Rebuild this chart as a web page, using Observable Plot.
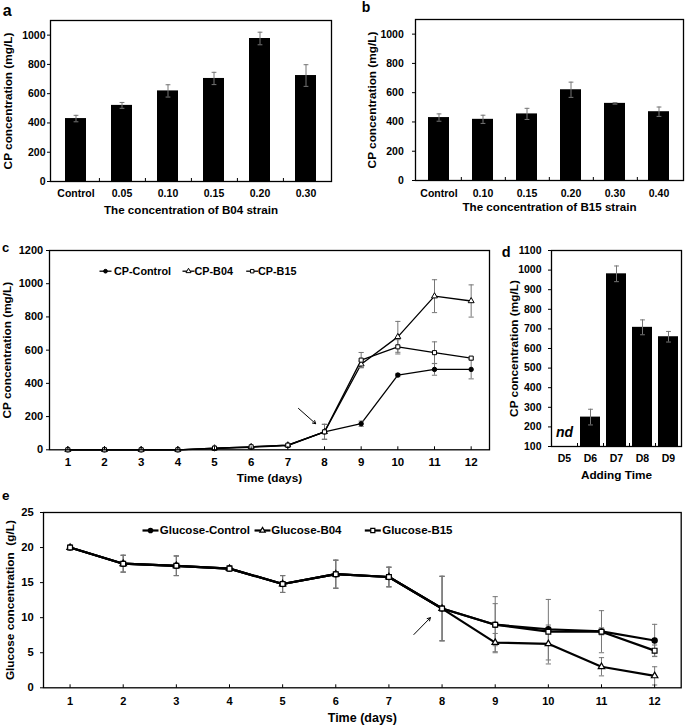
<!DOCTYPE html>
<html>
<head>
<meta charset="utf-8">
<script src="https://cdn.jsdelivr.net/npm/d3@7"></script>
<script src="https://cdn.jsdelivr.net/npm/@observablehq/plot@0.6"></script>
<style>
  html, body { margin: 0; padding: 0; background: #fff; }
  #fig { position: relative; width: 685px; height: 726px; overflow: hidden; background: #fff;
         font-family: "Liberation Sans", Arial, Helvetica, sans-serif; }
  .tag { position: absolute; font-weight: bold; color: #000; white-space: nowrap; }
</style>
</head>
<body>
<div id="fig"></div>
<script>
// ---------------- DATA ----------------
// Panel a
const aCategories = ["Control", "0.05", "0.10", "0.15", "0.20", "0.30"];
const aValues = [430, 520, 619, 704, 977, 724];
const aErrors = [22, 20, 42, 42, 43, 74];
const aXLabel = "The concentration of B04 strain";
// Panel b
const bCategories = ["Control", "0.10", "0.15", "0.20", "0.30", "0.40"];
const bValues = [430, 418, 455, 620, 527, 470];
const bErrors = [25, 28, 38, 52, 5, 32];
const bXLabel = "The concentration of B15 strain";
const abTicks = [0, 200, 400, 600, 800, 1000];
const cpLabel = "CP concentration (mg/L)";
// Panel c
const days = [1, 2, 3, 4, 5, 6, 7, 8, 9, 10, 11, 12];
const cpControl = [0, 0, 0, 0, 7, 15, 25, 108, 157, 450, 484, 484];
const cpControlErr = [0, 0, 0, 0, 2, 3, 4, 45, 16, 10, 35, 57];
const cpB04 = [0, 0, 0, 0, 10, 18, 28, 108, 515, 680, 925, 896];
const cpB04Err = [0, 0, 0, 0, 0, 0, 0, 45, 20, 93, 99, 97];
const cpB15 = [0, 0, 0, 0, 10, 18, 28, 108, 540, 620, 585, 552];
const cpB15Err = [0, 0, 0, 0, 0, 0, 0, 45, 46, 43, 65, 5];
const cTicks = [0, 200, 400, 600, 800, 1000, 1200];
const cSeriesNames = ["CP-Control", "CP-B04", "CP-B15"];
const cArrow = [{x1: 7.29, y1: 249, x2: 7.76, y2: 157}];
const timeLabel = "Time (days)";
// Panel d
const dCategories = ["D5", "D6", "D7", "D8", "D9"];
const dValues = [null, 250, 981, 708, 660];
const dErrors = [null, 40, 40, 38, 27];
const dTicks = [100, 200, 300, 400, 500, 600, 700, 800, 900, 1000, 1100];
const dNotDetected = "nd";
const dXLabel = "Adding Time";
// Panel e
const gluControl = [20, 17.7, 17.4, 17.0, 14.8, 16.2, 15.8, 11.3, 9.0, 8.35, 8.05, 6.75];
const gluControlErr = [0, 1.2, 1.4, 0.4, 1.2, 2.0, 1.4, 4.6, 3.0, 0.6, 0.5, 2.3];
const gluB04 = [20, 17.7, 17.4, 17.0, 14.8, 16.2, 15.8, 11.3, 6.45, 6.27, 3.0, 1.7];
const gluB04Err = [0, 1.2, 1.4, 0.4, 1.2, 2.0, 1.4, 4.6, 1.3, 2.3, 1.3, 1.3];
const gluB15 = [20, 17.7, 17.4, 17.0, 14.8, 16.2, 15.8, 11.3, 9.0, 8.0, 8.0, 5.3];
const gluB15Err = [0, 1.2, 1.4, 0.4, 1.2, 2.0, 1.4, 4.6, 4.0, 4.6, 3.0, 0.8];
const eTicks = [0, 5, 10, 15, 20, 25];
const eSeriesNames = ["Glucose-Control", "Glucose-B04", "Glucose-B15"];
const eArrow = [{x1: 7.47, y1: 7.6, x2: 7.78, y2: 10.0}];
const eYLabel = "Glucose concentration  (g/L)";

// ---------------- HELPERS ----------------
const FONT = '"Liberation Sans", Arial, Helvetica, sans-serif';
const NARROW = '"Liberation Sans Narrow", "Arial Narrow", "Liberation Sans", Arial, sans-serif';
const ERR = "#777";
const plain = d => String(d);
const fig = document.getElementById("fig");

function place(node, left, top) {
  node.style.position = "absolute";
  node.style.left = left + "px";
  node.style.top = top + "px";
  fig.appendChild(node);
}
function tag(t, x, baseline, size) {
  const s = document.createElement("div");
  s.className = "tag";
  s.textContent = t;
  s.style.fontSize = size + "px";
  s.style.lineHeight = size + "px";
  place(s, x, baseline - 0.8465 * size);
}
const hLine = (half) => ({draw(c) { c.moveTo(-half, 0); c.lineTo(half, 0); }});
const vTick = {draw(c) { c.moveTo(0, 0); c.lineTo(0, -3.5); }};

function style(fs) {
  return {fontFamily: FONT, fontWeight: "bold", fontSize: fs + "px", color: "#000",
          background: "transparent", overflow: "visible", maxWidth: "none"};
}

function barPanel(o) {
  const rows = o.cats.map((c, i) => ({cat: c, v: o.values[i], e: o.errors[i]}));
  const shown = rows.filter(r => r.v != null);
  const missing = rows.filter(r => r.v == null);
  const step = (o.width - o.ml - o.mr) / o.cats.length;
  const caps = shown.flatMap(r => [{cat: r.cat, y: r.v - r.e}, {cat: r.cat, y: r.v + r.e}]);
  const marks = [
    Plot.barY(shown, {x: "cat", y: "v", fill: "#000", clip: true}),
    Plot.ruleX(shown, {x: "cat", y1: r => r.v - r.e, y2: r => r.v + r.e, stroke: ERR, strokeWidth: 1}),
    Plot.dot(caps, {x: "cat", y: "y", symbol: hLine(2.4), stroke: ERR, fill: "none", strokeWidth: 1}),
    Plot.dot(o.cats.slice(0, -1), {x: d => d, frameAnchor: "bottom", dx: step / 2, symbol: vTick, stroke: "#000", strokeWidth: 1}),
    Plot.axisY({ticks: o.ticks, tickFormat: plain, tickSize: 3, tickPadding: o.ytp, label: null}),
    Plot.axisX({tickSize: 0, tickPadding: o.xtp, label: null}),
    Plot.text([o.yLabel], {text: d => d, frameAnchor: "left", textAnchor: "middle", rotate: -90, dx: o.ylx, lineAnchor: "middle", fontSize: 11.8}),
    Plot.text([o.xLabel], {text: d => d, frameAnchor: "bottom", textAnchor: "middle", dy: o.xly, lineAnchor: "bottom", fontSize: o.xlfs || 11.6}),
    Plot.frame({stroke: "#000", strokeWidth: 1.3})
  ];
  if (missing.length && o.note) {
    marks.push(Plot.text(missing, {x: "cat", text: () => o.note, frameAnchor: "bottom", dy: -10,
      fontStyle: "italic", fontSize: 14}));
  }
  return Plot.plot({
    width: o.width, height: o.height,
    marginTop: o.mt, marginRight: o.mr, marginBottom: o.mb, marginLeft: o.ml,
    style: style(o.tickFont),
    x: {type: "band", domain: o.cats, paddingInner: o.pad, paddingOuter: o.pad / 2, align: 0.5},
    y: {domain: o.yDomain},
    marks
  });
}

function linePanel(o) {
  const rows = o.series.flatMap(s => days.map((d, i) => ({series: s.name, day: d, v: s.values[i], e: s.errors[i]})));
  const errs = rows.filter(r => r.e > 0);
  const caps = errs.flatMap(r => [{day: r.day, y: r.v - r.e}, {day: r.day, y: r.v + r.e}]);
  const marks = [
    Plot.line(rows, {x: "day", y: "v", z: "series", stroke: "#000", strokeWidth: o.lw}),
    Plot.ruleX(errs, {x: "day", y1: r => r.v - r.e, y2: r => r.v + r.e, stroke: ERR, strokeWidth: 1}),
    Plot.dot(caps, {x: "day", y: "y", symbol: hLine(2.6), stroke: ERR, fill: "none", strokeWidth: 1}),
    ...o.series.map(s => Plot.dot(rows.filter(r => r.series === s.name),
      {x: "day", y: "v", symbol: s.symbol, r: s.r, fill: s.fill, stroke: "#000", strokeWidth: o.mw})),
    Plot.dot(days, {x: d => d, frameAnchor: "bottom", symbol: vTick, stroke: "#000", strokeWidth: 1}),
    Plot.axisY({ticks: o.ticks, tickFormat: plain, tickSize: 3, tickPadding: o.ytp, label: null, fontSize: o.yTickFont}),
    Plot.axisX({ticks: days, tickFormat: plain, tickSize: 0, tickPadding: o.xtp, label: null, fontSize: o.xTickFont, fontFamily: o.xFont}),
    Plot.text([o.yLabel], {text: d => d, frameAnchor: "left", textAnchor: "middle", rotate: -90, dx: o.ylx, lineAnchor: "middle", fontSize: 11.8}),
    Plot.text([o.xLabel], {text: d => d, frameAnchor: "bottom", textAnchor: "middle", dy: o.xly, lineAnchor: "bottom", fontSize: o.xlfs, fontFamily: o.xFont}),
    Plot.arrow(o.arrow, {x1: "x1", y1: "y1", x2: "x2", y2: "y2", stroke: "#000", strokeWidth: 1, headLength: 5}),
    Plot.frame({stroke: "#000", strokeWidth: 1.3})
  ];
  // legend
  o.series.forEach((s, i) => {
    const lx = o.legend.lineX[i], tx = o.legend.textX[i], ly = o.legend.y;
    marks.push(
      Plot.dot([s.name], {frameAnchor: "top-left", dx: lx, dy: ly, symbol: hLine(o.legend.half), stroke: "#000", strokeWidth: o.lw}),
      Plot.dot([s.name], {frameAnchor: "top-left", dx: lx, dy: ly, symbol: s.symbol, r: s.r * 0.85, fill: s.fill, stroke: "#000", strokeWidth: o.mw}),
      Plot.text([s.name], {text: d => d, frameAnchor: "top-left", dx: tx, dy: ly, textAnchor: "start", lineAnchor: "middle", fontSize: o.legend.fs})
    );
  });
  return Plot.plot({
    width: o.width, height: o.height,
    marginTop: o.mt, marginRight: o.mr, marginBottom: o.mb, marginLeft: o.ml,
    style: style(o.yTickFont),
    x: {type: "linear", domain: [0.5, 12.5]},
    y: {domain: o.yDomain},
    marks
  });
}

// ---------------- PANELS ----------------
place(barPanel({
  cats: aCategories, values: aValues, errors: aErrors, ticks: abTicks, yDomain: [0, 1100],
  xLabel: aXLabel, yLabel: cpLabel,
  width: 340, height: 215, mt: 20, mr: 9, mb: 34, ml: 50,
  pad: 0.55, ytp: 2, xtp: 8, ylx: -42, xly: 32, tickFont: 10.5
}), 0, 0);

place(barPanel({
  cats: bCategories, values: bValues, errors: bErrors, ticks: abTicks, yDomain: [0, 1100],
  xLabel: bXLabel, yLabel: cpLabel,
  width: 345, height: 215, mt: 19, mr: 2, mb: 35, ml: 75,
  pad: 0.52, ytp: 8.7, xtp: 9, ylx: -43.3, xly: 30.7, tickFont: 10.5
}), 340, 0);

place(linePanel({
  series: [
    {name: cSeriesNames[0], values: cpControl, errors: cpControlErr, symbol: "circle", r: 2.2, fill: "#000"},
    {name: cSeriesNames[1], values: cpB04, errors: cpB04Err, symbol: "triangle", r: 2.2, fill: "#fff"},
    {name: cSeriesNames[2], values: cpB15, errors: cpB15Err, symbol: "square", r: 2.3, fill: "#fff"}
  ],
  ticks: cTicks, yDomain: [0, 1200], yLabel: cpLabel, xLabel: timeLabel, arrow: cArrow,
  width: 500, height: 250, mt: 15, mr: 11, mb: 35.7, ml: 49,
  lw: 1.3, mw: 1, ytp: 3.3, xtp: 8.5, ylx: -42.3, xly: 31.7, xlfs: 11.8,
  yTickFont: 11, xTickFont: 11.5, xFont: FONT,
  legend: {lineX: [56, 139, 202.7], textX: [64.5, 145, 208.5], y: 20.7, half: 6, fs: 10.8}
}), 0, 235);

place(barPanel({
  cats: dCategories, values: dValues, errors: dErrors, ticks: dTicks, yDomain: [100, 1100],
  xLabel: dXLabel, yLabel: cpLabel, note: dNotDetected,
  width: 195, height: 250, mt: 15, mr: 4, mb: 39, ml: 61,
  pad: 0.23, ytp: 7, xtp: 8, ylx: -37.7, xly: 32, tickFont: 10.5, xlfs: 11.8
}), 490, 235);

place(linePanel({
  series: [
    {name: eSeriesNames[0], values: gluControl, errors: gluControlErr, symbol: "circle", r: 2.6, fill: "#000"},
    {name: eSeriesNames[1], values: gluB04, errors: gluB04Err, symbol: "triangle", r: 2.4, fill: "#fff"},
    {name: eSeriesNames[2], values: gluB15, errors: gluB15Err, symbol: "square", r: 2.7, fill: "#fff"}
  ],
  ticks: eTicks, yDomain: [0, 25], yLabel: eYLabel, xLabel: timeLabel, arrow: eArrow,
  width: 685, height: 231, mt: 17, mr: 4.3, mb: 38.7, ml: 43,
  lw: 2.2, mw: 1.2, ytp: 6.7, xtp: 9.4, ylx: -33.7, xly: 34, xlfs: 12.5,
  yTickFont: 11.2, xTickFont: 11, xFont: NARROW,
  legend: {lineX: [107, 219, 329.3], textX: [116.3, 227.7, 338.7], y: 18, half: 8, fs: 11.5}
}), 0, 495);

// panel letters
tag("a", 2.7, 16.7, 16);
tag("b", 361.7, 11.7, 14);
tag("c", 2, 251.7, 13);
tag("d", 501.7, 257.7, 14.5);
tag("e", 2, 500, 13.5);
</script>
</body>
</html>
